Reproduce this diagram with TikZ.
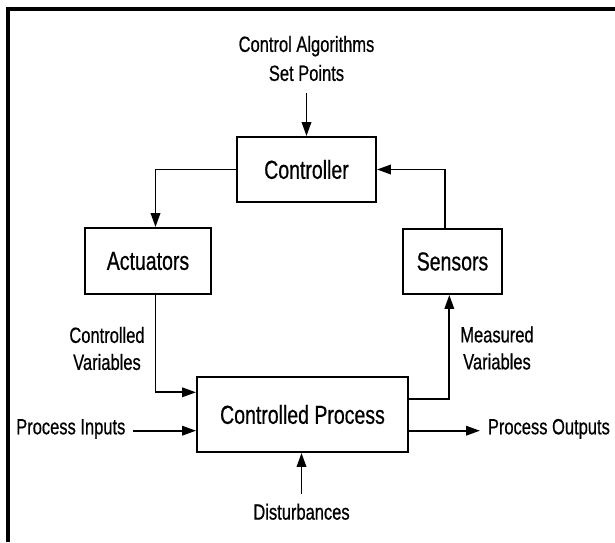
\documentclass[tikz,border=0pt]{standalone}
\usepackage{fontspec}
\setmainfont[FakeStretch=0.75, FakeBold=0.6]{Liberation Sans}
\usetikzlibrary{arrows.meta}
\begin{document}
\begin{tikzpicture}[x=1pt,y=-1pt,
  box/.style={draw=black, line width=1.9pt, inner sep=0pt, font=\fontsize{26}{31}\selectfont},
  lbl/.style={align=center, inner sep=0pt, font=\fontsize{22}{27}\selectfont},
  sl/.style={font=\fontsize{22}{27}\selectfont, text height=0.72em, text depth=0pt, inner ysep=0pt, inner xsep=7pt},
  conn/.style={line width=1.9pt, draw=black},
  arr/.style={conn, -{Triangle[length=14pt,width=9.5pt]}}]
\useasboundingbox (0,0) rectangle (615,542);
\fill[white] (0,0) rectangle (615,542);
% frame
\draw[line width=4.2pt, line join=miter] (8,542) -- (8,8.8) -- (615,8.8);
% boxes
\node[box, minimum width=139pt, minimum height=65pt] (ctrl) at (306.5,169.5) {Controller};
\node[box, minimum width=126pt, minimum height=66pt] (act) at (148,261) {Actuators};
\node[box, minimum width=99pt, minimum height=65pt] (sens) at (452.5,261.5) {Sensors};
\node[box, minimum width=211pt, minimum height=75pt] (proc) at (302.5,414.5) {Controlled Process};
% labels
\node[lbl, font=\fontsize{22}{29}\selectfont] (ca) at (306.5,58.5) {Control Algorithms\\Set Points};
\node[lbl] (cv) at (107,348.5) {Controlled\\Variables};
\node[lbl] (mv) at (497,348) {Measured\\Variables};
\node[sl] (pin) at (70.8,430.7) {Process Inputs};
\node[sl, anchor=west, inner xsep=7.7pt] (pout) at (480,430.7) {Process Outputs};
\node[sl] (dist) at (301.5,516) {Disturbances};
% helper coordinates
\coordinate (catail) at (306.5,93);
\coordinate (dtail) at (301.5,494);
\coordinate (ax) at (155.5,0);
\coordinate (cvy) at (0,392.3);
\coordinate (mvy) at (0,399);
\coordinate (mx) at (449.3,0);
\coordinate (sx) at (445,0);
% connectors
\draw[arr] (catail) -- (ctrl.north);
\draw[arr] (ctrl.west) -| (ax |- act.north);
\draw[arr] (ax |- act.south) |- (proc.west |- cvy);
\draw[arr] (pin.east) -- (proc.west |- pin.east);
\draw[arr] (proc.east |- pout.west) -- (pout.west);
\draw[arr] (dtail) -- (dtail |- proc.south);
\draw[arr] (proc.east |- mvy) -| (mx |- sens.south);
\draw[arr] (sx |- sens.north) |- (ctrl.east);
\end{tikzpicture}
\end{document}
